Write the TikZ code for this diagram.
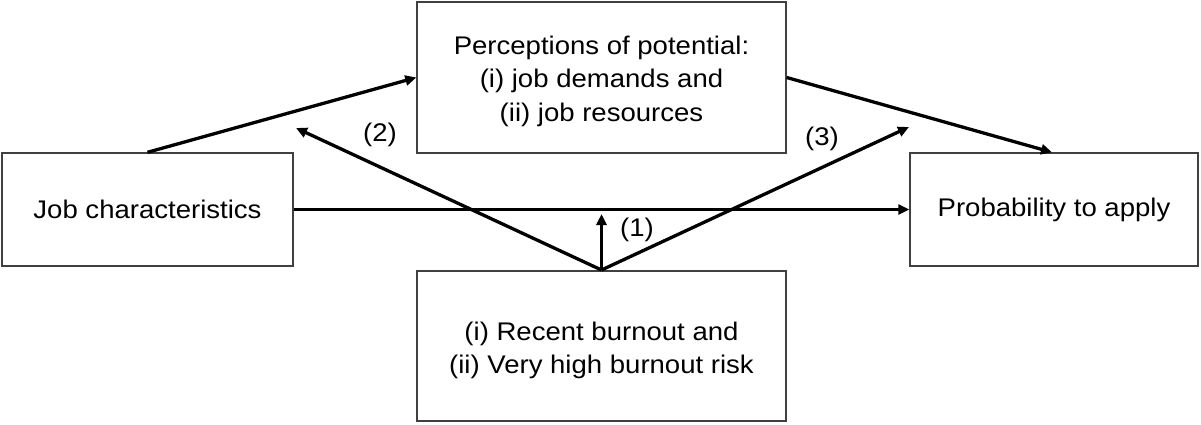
\documentclass[tikz,border=0pt]{standalone}
\usepackage{fontspec}
\setmainfont{Liberation Sans}[FakeStretch=1.08]
\usetikzlibrary{arrows.meta}
\newcommand{\stacktext}[2]{\raisebox{#1}[\height][\depth]{\begin{tabular}{@{}c@{}}#2\end{tabular}}}
\begin{document}
\begin{tikzpicture}[x=1pt,y=-1pt,
  box/.style={draw=black!75, line width=1.4pt, fill=white, inner sep=0pt, align=center,
    font=\fontsize{25.5}{33.5}\selectfont},
  conn/.style={line width=3.3pt, -{Triangle[length=11pt,width=10pt]}},
  lab/.style={font=\fontsize{25.5}{33.5}\selectfont, inner sep=0pt}]
\useasboundingbox (0,0) rectangle (1201,424);
\node[box, minimum width=291pt, minimum height=113pt] (jc) at (147.5,209.5) {Job characteristics};
\node[box, minimum width=369pt, minimum height=151pt] (pp) at (601.5,77.5) {\stacktext{-3.5pt}{Perceptions of potential:\\(i) job demands and\\(ii) job resources}};
\node[box, minimum width=288pt, minimum height=113pt] (pa) at (1054,209.5) {Probability to apply};
\node[box, minimum width=369pt, minimum height=150pt] (bo) at (601.5,346) {\stacktext{-4.5pt}{(i) Recent burnout and\\(ii) Very high burnout risk}};
\coordinate (b0) at (601.5,270);
\coordinate (t2) at (296,128);
\coordinate (t3) at (909,127);
\coordinate (t1) at (601.5,214);
\draw[conn] (jc.north) -- (pp.west);
\draw[conn] (jc.east) -- (pa.west);
\draw[conn] (pp.east) -- ([xshift=-2pt]pa.north);
\draw[conn] (b0) -- (t2);
\draw[conn] (b0) -- (t3);
\draw[conn] (b0) -- (t1);
\node[lab] (l2) at (380,135) {(2)};
\node[lab] (l3) at (822,139) {(3)};
\node[lab] (l1) at (637,230) {(1)};
\end{tikzpicture}
\end{document}
